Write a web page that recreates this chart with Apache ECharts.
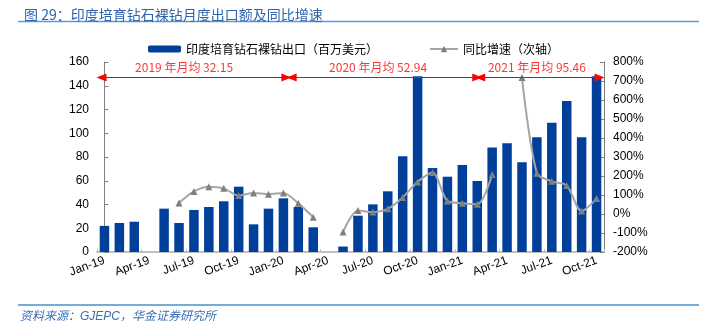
<!DOCTYPE html>
<html><head><meta charset="utf-8">
<script src="https://cdn.jsdelivr.net/npm/echarts@6/dist/echarts.min.js"></script>
<style>html,body{margin:0;padding:0;background:#fff}#c{width:704px;height:334px}</style>
</head><body><div id="c"></div>
<script>
const categories = ['Jan-19','Feb-19','Mar-19','Apr-19','May-19','Jun-19','Jul-19','Aug-19','Sep-19','Oct-19','Nov-19','Dec-19',
  'Jan-20','Feb-20','Mar-20','Apr-20','May-20','Jun-20','Jul-20','Aug-20','Sep-20','Oct-20','Nov-20','Dec-20',
  'Jan-21','Feb-21','Mar-21','Apr-21','May-21','Jun-21','Jul-21','Aug-21','Sep-21','Oct-21'];
const exportValues = [22, 24.4, 25.5, null, 36.5, 24.4, 35.4, 37.9, 42.7, 55, 23.3, 36.5,
  45.2, 37.9, 20.8, null, 4.6, 30.6, 40.1, 51.1, 80.6, 148, 70.7, 63.4,
  73.3, 59.8, 88.1, 91.5, 75.5, 96.6, 108.9, 127.1, 96.6, 148];
const yoyGrowth = [null, null, null, null, null, 58, 119, 144, 135, 97, 111, 104,
  111, 56, -17, null, -95, 19, 10, 27, 87, 169, 219, 69,
  57, 51, 208, null, 718, 215, 172, 150, 16, 81];
const leftAxisRange = [0, 160, 20];
const rightAxisRange = [-200, 800, 100];
const annoLabels = ['2019 年月均 32.15', '2020 年月均 52.94', '2021 年月均 95.46'];
const annoFrom = [-0.2, 12.55, 25.2];
const annoTo = [12.2, 25.0, 33.2];
const annoTextX = [5.34, 18.35, 29.0];
const annoArrowY = 147;
const annoTextY = 155.5;

const barName = '印度培育钻石裸钻出口（百万美元）';
const lineName = '同比增速（次轴）';
const cjk = '"Noto Sans CJK SC", sans-serif';
const latin = '"Liberation Sans", Arial, sans-serif';

const chart = echarts.init(document.getElementById('c'), null, {renderer: 'canvas'});
chart.setOption({
  animation: false,
  backgroundColor: '#ffffff',
  title: {
    text: '图 29：印度培育钻石裸钻月度出口额及同比增速',
    left: 19, top: 3,
    textStyle: {fontSize: 14, fontWeight: 'normal', color: '#2e64ae', fontFamily: cjk}
  },
  legend: [
    {data: [barName], left: 143, top: 38, itemWidth: 33, itemHeight: 7, icon: 'roundRect',
     textStyle: {fontSize: 12, color: '#000', fontFamily: cjk}},
    {data: [lineName], left: 424, top: 38, itemWidth: 28, itemHeight: 8,
     textStyle: {fontSize: 12, color: '#000', fontFamily: cjk}}
  ],
  grid: {left: 97, right: 100, top: 62, height: 190, containLabel: false},
  xAxis: [
    {type: 'category', data: categories, boundaryGap: true,
     axisLine: {onZero: false, lineStyle: {color: '#bfbfbf', width: 2}},
     axisTick: {show: true, interval: 2, inside: true, length: 3, lineStyle: {color: '#bfbfbf'}},
     axisLabel: {interval: 2, rotate: 20, margin: 8, fontSize: 12, color: '#000', fontFamily: latin},
     splitLine: {show: false}},
    {type: 'value', min: -0.5, max: categories.length - 0.5, show: false, gridIndex: 0}
  ],
  yAxis: [
    {type: 'value', min: leftAxisRange[0], max: leftAxisRange[1], interval: leftAxisRange[2],
     axisLine: {show: true, lineStyle: {color: '#808080'}},
     axisTick: {show: true, inside: true, length: 4, lineStyle: {color: '#808080'}},
     axisLabel: {fontSize: 12, color: '#000', margin: 8, fontFamily: latin},
     splitLine: {show: false}},
    {type: 'value', min: rightAxisRange[0], max: rightAxisRange[1], interval: rightAxisRange[2],
     position: 'right',
     axisLine: {show: true, lineStyle: {color: '#808080'}},
     axisTick: {show: true, inside: true, length: 4, lineStyle: {color: '#808080'}},
     axisLabel: {fontSize: 12, color: '#000', margin: 9, formatter: '{value}%', fontFamily: latin},
     splitLine: {show: false}}
  ],
  series: [
    {name: barName, type: 'bar', data: exportValues, barWidth: 9.5, xAxisIndex: 0, yAxisIndex: 0,
     itemStyle: {color: '#00409a'}},
    {name: lineName, type: 'line', data: yoyGrowth, xAxisIndex: 0, yAxisIndex: 1,
     smooth: 0.3, connectNulls: false, symbol: 'triangle', symbolSize: 7, showSymbol: true,
     lineStyle: {color: '#a6a6a6', width: 2},
     itemStyle: {color: '#7f7f7f', borderWidth: 0}, z: 3},
    {name: 'anno', type: 'scatter', xAxisIndex: 1, yAxisIndex: 0, z: 5, silent: true,
     symbolSize: 1, itemStyle: {color: 'rgba(0,0,0,0)'},
     data: annoTextX.map((x, i) => [x, annoTextY]),
     label: {show: true, position: 'inside', color: '#ff0000', fontSize: 12, fontFamily: cjk,
       formatter: p => annoLabels[p.dataIndex]},
     markLine: {silent: true, symbol: ['triangle', 'triangle'], symbolSize: [8, 10],
       lineStyle: {color: '#ff0000', width: 1, type: 'solid'}, label: {show: false},
       emphasis: {disabled: true},
       data: annoFrom.map((f, i) => [{coord: [f, annoArrowY]}, {coord: [annoTo[i], annoArrowY]}])}}
  ],
  graphic: [
    {type: 'line', shape: {x1: 18, y1: 21.5, x2: 699, y2: 21.5}, style: {stroke: '#5b9bd5', lineWidth: 1.5}},
    {type: 'line', shape: {x1: 18, y1: 305, x2: 699, y2: 305}, style: {stroke: '#4a90c8', lineWidth: 1.5}},
    {type: 'text', left: 20, top: 311,
     style: {text: '资料来源：GJEPC，华金证券研究所', fill: '#3c6eb4', fontSize: 12, fontStyle: 'italic',
       fontFamily: '"Liberation Sans", "Noto Sans CJK SC", sans-serif'}}
  ]
});
</script>
</body></html>
